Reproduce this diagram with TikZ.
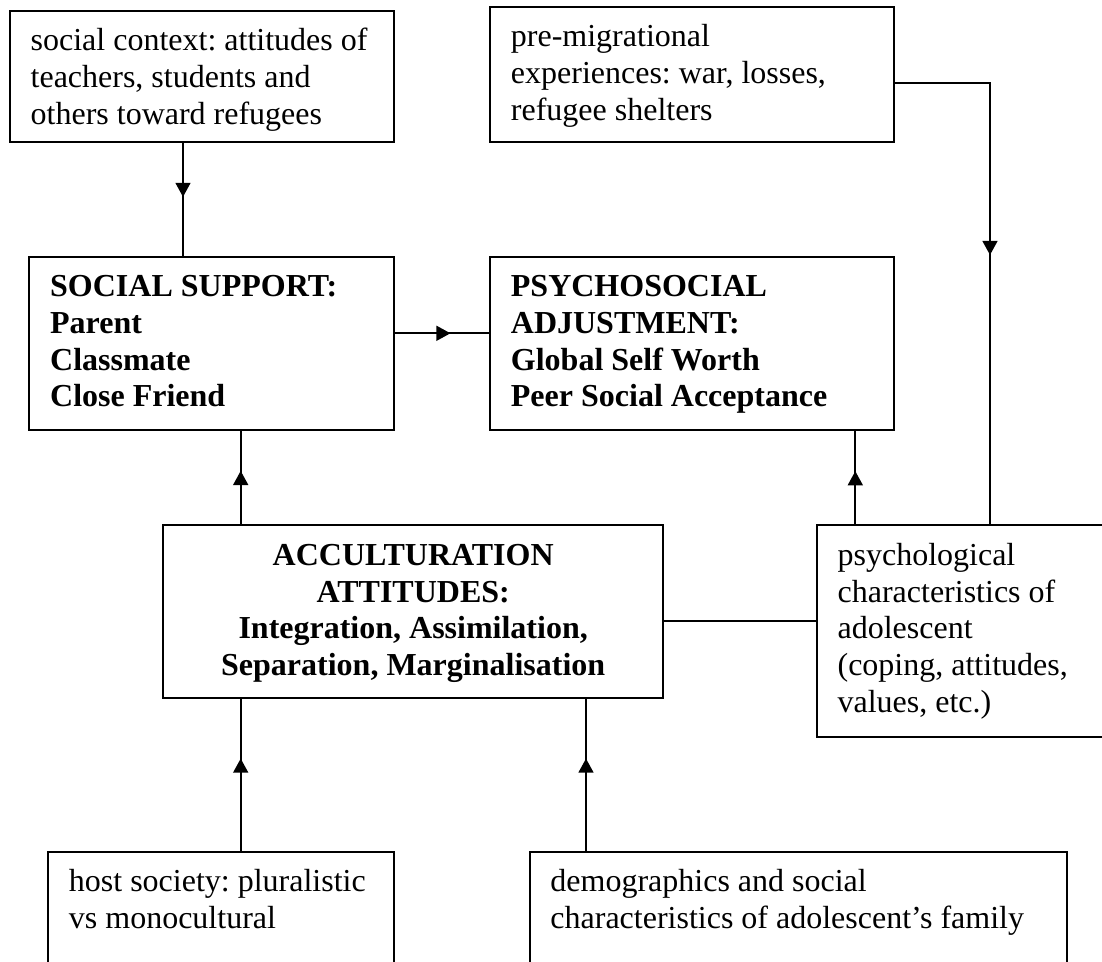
\documentclass[tikz,border=0pt]{standalone}
\usepackage{fontspec}
\setmainfont{Liberation Serif}
\usetikzlibrary{calc,arrows.meta,decorations.markings}
\frenchspacing

\begin{document}
\begin{tikzpicture}[x=0.375pt,y=-0.375pt,line width=0.7pt,
  box/.style={draw,line width=0.75pt,inner sep=0pt},
  txt/.style={inner sep=0pt,align=left,anchor=north west,font=\fontsize{12}{13.8}\selectfont},
  midarrow/.style={postaction={decorate},decoration={markings,
    mark=at position #1 with {\arrow{Triangle[length=5.3pt,width=5.6pt]}}}}]
\path[use as bounding box] (0,0) rectangle (1102,962);
\clip (0,0) rectangle (1102,962);
\fill[white] (0,0) rectangle (1102,962);
% boxes, drawn as empty nodes
\node[box,minimum width=144.1pt,minimum height=49.1pt] (ctx) at (201.85,76.2) {};
\node[box,minimum width=151.5pt,minimum height=50.6pt] (pre) at (692,74.2) {};
\node[box,minimum width=136.8pt,minimum height=65pt] (sup) at (211.65,343.35) {};
\node[box,minimum width=151.5pt,minimum height=65pt] (psy) at (692,343.35) {};
\node[box,minimum width=187.35pt,minimum height=64.7pt] (acc) at (413.2,611.7) {};
\node[box,minimum width=117.5pt,minimum height=79.35pt] (psych) at (973.35,631.2) {};
\node[box,minimum width=129.75pt,minimum height=55.5pt] (host) at (221,926) {};
\node[box,minimum width=201.55pt,minimum height=55.5pt] (demo) at (798.25,926) {};
% texts
\node[txt] (ctxtext) at ($(ctx.north west)+(21,14.2)$) {\strut social context: attitudes of\\teachers, students and\\others toward refugees};
\node[txt] (pretext) at ($(pre.north west)+(21,14.2)$) {\strut pre-migrational\\experiences: war, losses,\\refugee shelters};
\node[txt,font=\fontsize{12}{13.8}\selectfont\bfseries] (suptext) at ($(sup.north west)+(21,14.2)$) {\strut SOCIAL SUPPORT:\\Parent\\Classmate\\Close Friend};
\node[txt,font=\fontsize{12}{13.8}\selectfont\bfseries] (psytext) at ($(psy.north west)+(21,14.2)$) {\strut PSYCHOSOCIAL\\ADJUSTMENT:\\Global Self Worth\\Peer Social Acceptance};
\node[txt,font=\fontsize{12}{13.8}\selectfont\bfseries,align=center,anchor=north] (acctext) at ($(acc.north)+(0,14.2)$) {\strut ACCULTURATION\\ATTITUDES:\\Integration, Assimilation,\\Separation, Marginalisation};
\node[txt] (psychtext) at ($(psych.north west)+(21,14.2)$) {\strut psychological\\characteristics of\\adolescent\\(coping, attitudes,\\values, etc.)};
\node[txt] (hosttext) at ($(host.north west)+(21,14.2)$) {\strut host society: pluralistic\\vs monocultural};
\node[txt] (demotext) at ($(demo.north west)+(21,14.2)$) {\strut demographics and social\\characteristics of adolescent’s family};
% where the connectors run
\coordinate (c1) at (183,0);
\coordinate (c2) at (0,333.3);
\coordinate (c3) at (990,83.3);
\coordinate (c4) at (240.7,0);
\coordinate (c5) at (855.3,0);
\coordinate (c6) at (0,621);
\coordinate (c7) at (586,0);
% connectors
\draw[midarrow=0.48] (ctx.south -| c1) -- (sup.north -| c1);
\draw[midarrow=0.59] (sup.east |- c2) -- (psy.west |- c2);
\draw[midarrow=0.4975] (pre.east |- c3) -- (c3) -- (psych.north -| c3);
\draw[midarrow=0.573] (acc.north -| c4) -- (sup.south -| c4);
\draw[midarrow=0.57] (psych.north -| c5) -- (psy.south -| c5);
\draw (acc.east |- c6) -- (psych.west |- c6);
\draw[midarrow=0.608] (host.north -| c4) -- (acc.south -| c4);
\draw[midarrow=0.608] (demo.north -| c7) -- (acc.south -| c7);
\end{tikzpicture}
\end{document}
